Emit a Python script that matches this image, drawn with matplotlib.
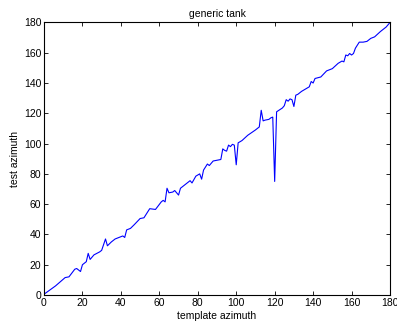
import matplotlib
matplotlib.use("Agg")
import matplotlib.pyplot as plt

template_az = [0, 6, 11, 13, 16, 17, 19, 20, 22, 23, 24, 26, 29, 30, 32, 33, 35, 37,
               41, 42, 43, 45, 47, 50, 52, 55, 58, 61, 62, 63, 64, 65, 67, 68, 70, 71,
               74, 76, 77, 79, 81, 82, 83, 85, 86, 88, 90, 92, 93, 94, 95, 96, 97, 98,
               99, 100, 101, 103, 106, 110, 112, 113, 114, 115, 117, 118, 119, 120, 121,
               124, 125, 126, 127, 128, 129, 130, 131, 132, 134, 136, 138, 139, 140, 141,
               144, 147, 150, 153, 155, 156, 157, 158, 159, 160, 161, 162, 164, 166, 168,
               170, 172, 175, 178, 180]
test_az = [0.5, 6, 11.5, 12, 17, 17.5, 15.5, 20, 22, 27.5, 23.5, 26.5, 28.5, 29.5, 37,
           32.5, 35, 37, 39, 38, 43, 44, 46.5, 50.5, 51, 57, 56.5, 61.5, 62.5, 61.5, 70.5,
           67.5, 68, 69, 66, 70.5, 73.5, 75.5, 74, 78.5, 80, 76.5, 82.5, 86.5, 85.5, 88.5,
           89, 89.5, 96.5, 95.5, 95, 99, 98, 99.5, 99, 86, 100.5, 102, 105.5, 109, 111,
           122, 115, 115.5, 116, 117, 117.5, 75, 121, 123.5, 125, 129, 128, 129.5, 129,
           124.5, 132, 132.5, 134.5, 136, 137.5, 141, 140, 143, 144, 148, 149.5, 153,
           154.5, 154, 158.5, 158, 159.5, 158.5, 159.5, 163, 167, 167, 167.5, 169.5,
           170.5, 174, 177, 180]
x_ticks = list(range(0, 181, 20))
y_ticks = list(range(0, 181, 20))

plt.rcParams["font.family"] = ["Liberation Sans", "DejaVu Sans"]
plt.rcParams["font.size"] = 7.5

fig = plt.figure(figsize=(3.97, 3.26), dpi=100)
ax = fig.add_axes([0.1108, 0.0951, 0.8716, 0.836])
ax.plot(template_az, test_az, color="blue", linewidth=0.8)
ax.set_xlim(0, 180)
ax.set_ylim(0, 180)
ax.set_xticks(x_ticks)
ax.set_yticks(y_ticks)
ax.tick_params(direction="in", length=3, width=0.6, top=True, right=True, pad=2)
for sp in ax.spines.values():
    sp.set_linewidth(0.8)
ax.set_title("generic tank", fontsize=7.5, pad=4)
ax.set_xlabel("template azimuth", labelpad=2)
ax.set_ylabel("test azimuth", labelpad=3)

fig.savefig("out.png", dpi=100)
